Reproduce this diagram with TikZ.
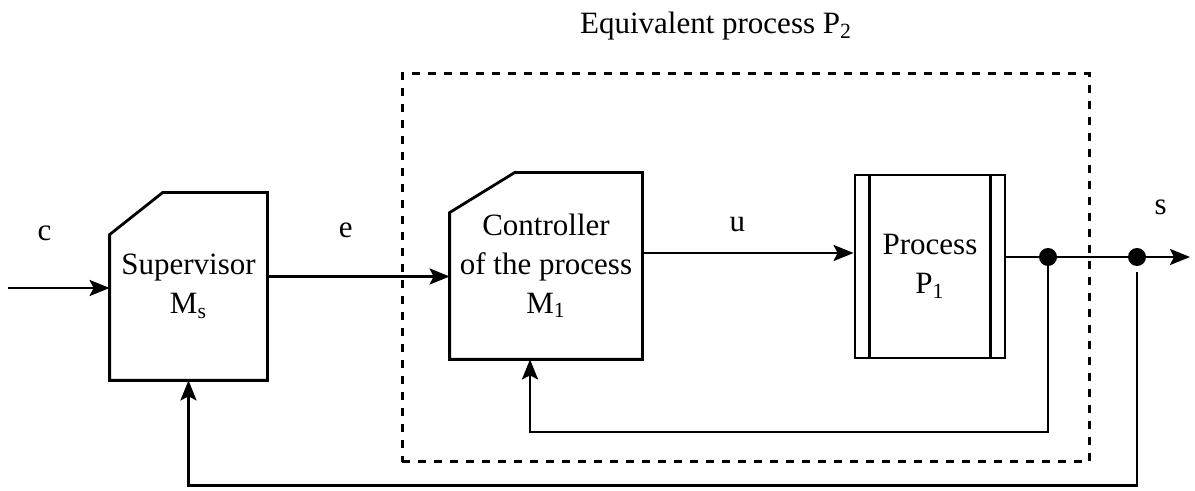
\documentclass[tikz,border=0pt]{standalone}
\usepackage{fontspec}
\setmainfont{Liberation Serif}
\usetikzlibrary{arrows.meta}

\begin{document}
\begin{tikzpicture}[x=0.5pt,y=-0.5pt,
		every node/.style={font=\fontsize{15.5}{19.5}\selectfont},
		blk/.style={rectangle,inner sep=0pt,align=center},
		edge/.style={line width=1.4pt},
		arr/.style={edge,-{Stealth[length=10pt,width=8pt,inset=2pt]}},
		dot/.style={circle,fill,inner sep=0pt,minimum size=9pt},
		lbl/.style={above=10pt,inner sep=0pt}]
	\useasboundingbox (0,0) rectangle (1195,491);
	% blocks
	\node[blk,minimum width=78.5pt,minimum height=93.5pt] (sup) at (188.5,286.5) {Supervisor\\M\textsubscript{s}};
	\node[blk,minimum width=96pt,minimum height=93pt] (ctl) at (546,266) {Controller\\of the process\\M\textsubscript{1}};
	\node[blk,draw,line width=1.4pt,minimum width=75pt,minimum height=91.5pt] (proc) at (930,266.5) {Process\\P\textsubscript{1}};
	\draw[edge] ([yshift=-21pt]sup.north west) -- ([xshift=26.5pt]sup.north west) -- (sup.north east) -- (sup.south east) -- (sup.south west) -- cycle;
	\draw[edge] ([yshift=-20pt]ctl.north west) -- ([xshift=32.5pt]ctl.north west) -- (ctl.north east) -- (ctl.south east) -- (ctl.south west) -- cycle;
	\draw[edge] ([xshift=8pt]proc.north west) -- ([xshift=8pt]proc.south west);
	\draw[edge] ([xshift=-8pt]proc.north east) -- ([xshift=-8pt]proc.south east);
	% equivalent process
	\node[draw,dash pattern=on 4pt off 4pt,line width=1.5pt,minimum width=343.5pt,minimum height=194pt] (p2) at (745.5,268) {};
	\node[anchor=base] (p2title) at (716,34) {Equivalent process P\textsubscript{2}};
	% signals
	\coordinate (cin) at (8,288);
	\coordinate (sout) at (1190,257);
	\node[dot] (j1) at (1048,257) {};
	\node[dot] (j2) at (1137,257) {};
	\draw[arr] (cin) -- (cin -| sup.west) node[lbl,above=13pt,pos=0.36] {c};
	\draw[arr] ([yshift=5pt]sup.east) -- ([yshift=5pt]sup.east -| ctl.west) node[lbl,above=8.5pt,pos=0.43] {e};
	\draw[arr] ([yshift=6.5pt]ctl.east) -- ([yshift=6.5pt]ctl.east -| proc.west) node[lbl,pos=0.45] {u};
	\draw[arr] (proc.east |- j1) -- (sout) node[lbl,above=10.5pt,pos=0.84] {s};
	% feedback loops
	\draw[arr] (j1.center) -- ++(0,175) -| ([xshift=-8pt]ctl.south);
	\draw[arr] ([yshift=-3pt]j2.south) -- ++(0,213) -| (sup.south);
\end{tikzpicture}
\end{document}
